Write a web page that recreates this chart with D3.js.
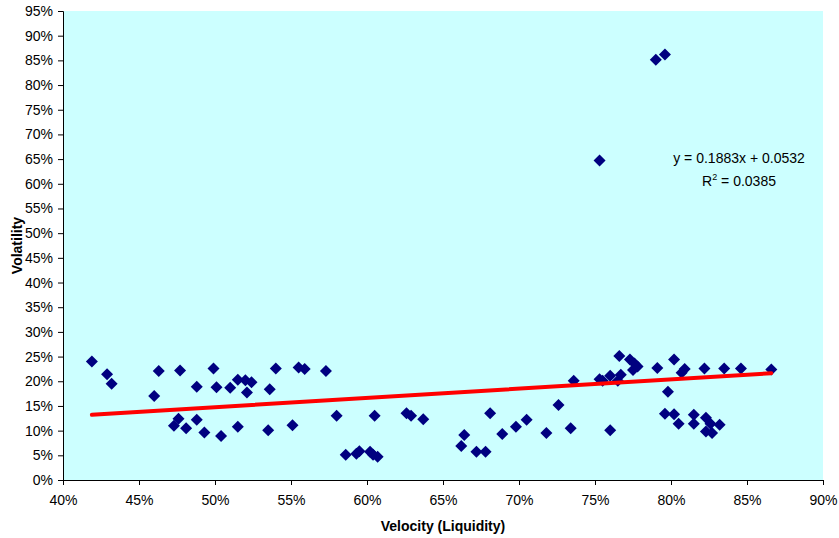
<!DOCTYPE html>
<html>
<head>
<meta charset="utf-8">
<script src="https://cdn.jsdelivr.net/npm/d3@7"></script>
<style>
  html, body { margin: 0; padding: 0; background: #ffffff; }
  svg { display: block; font-family: "Liberation Sans", Arial, sans-serif; }
</style>
</head>
<body>
<svg id="chart" width="839" height="538"></svg>
<script>
// Velocity (Liquidity), %
const velocity = [
  41.9, 42.9, 43.2, 46.0, 46.3, 47.7, 47.6, 47.3, 48.1, 48.8, 49.3, 48.8, 49.9, 50.1, 50.4,
  51.0, 51.5, 51.5, 52.0, 52.4, 52.1, 53.6, 54.0, 53.5, 55.1, 55.5, 55.9, 57.3, 58.0, 58.6,
  59.3, 59.5, 60.2, 60.4, 60.7, 60.5, 62.6, 62.9, 63.7, 66.4, 66.2, 67.2, 67.8, 68.1, 68.9,
  69.8, 70.5, 71.8, 72.6, 73.4, 73.6, 75.3, 75.5, 76.0, 76.0, 76.5, 76.7, 76.6, 77.3, 77.6,
  77.8, 77.5, 79.1, 80.2, 80.9, 80.7, 82.2, 83.5, 84.6, 86.6, 79.8, 79.6, 80.2, 80.5, 81.5,
  81.5, 82.3, 82.6, 82.3, 82.7, 83.2, 79.0, 79.6, 75.3
];
// Volatility, %
const volatility = [
  24.0, 21.4, 19.5, 17.0, 22.1, 22.2, 12.4, 11.0, 10.5, 12.2, 9.6, 18.9, 22.6, 18.8, 8.9,
  18.7, 10.8, 20.3, 20.2, 19.8, 17.7, 18.4, 22.6, 10.1, 11.1, 22.8, 22.5, 22.1, 13.0, 5.1,
  5.3, 5.8, 5.7, 5.1, 4.7, 13.0, 13.5, 13.0, 12.3, 9.1, 6.9, 5.7, 5.7, 13.5, 9.3,
  10.8, 12.2, 9.5, 15.2, 10.5, 20.1, 20.4, 20.1, 10.1, 21.1, 20.1, 21.3, 25.1, 24.4, 23.6,
  23.0, 22.3, 22.7, 24.4, 22.5, 21.7, 22.6, 22.6, 22.6, 22.4, 17.9, 13.4, 13.3, 11.4, 13.2,
  11.4, 12.6, 11.4, 9.8, 9.5, 11.2, 85.1, 86.2, 64.7
];
// Linear trend (from the chart): y = 0.1883x + 0.0532
const trendSlope = 0.1883;
const trendIntercept = 0.0532;
const equationLines = ["y = 0.1883x + 0.0532", "0.0385"];
const xTicks = [40, 45, 50, 55, 60, 65, 70, 75, 80, 85, 90];
const yTicks = [0, 5, 10, 15, 20, 25, 30, 35, 40, 45, 50, 55, 60, 65, 70, 75, 80, 85, 90, 95];
const xTitle = "Velocity (Liquidity)";
const yTitle = "Volatility";

const W = 839, H = 538;
const margin = { left: 63, right: 16, top: 11, bottom: 58 };
const svg = d3.select("#chart");
const FS = 14;

const x = d3.scaleLinear().domain([40, 90]).range([margin.left, W - margin.right]);
const y = d3.scaleLinear().domain([0, 95]).range([H - margin.bottom, margin.top]);

// plot background
svg.append("rect")
  .attr("x", x(40)).attr("y", y(95))
  .attr("width", x(90) - x(40)).attr("height", y(0) - y(95))
  .attr("fill", "#CCFFFF");

// axes
const xAxis = d3.axisBottom(x).tickValues(xTicks).tickFormat(d => d + "%").tickSizeOuter(0).tickSize(5).tickPadding(10);
const yAxis = d3.axisLeft(y).tickValues(yTicks).tickFormat(d => d + "%").tickSizeOuter(0).tickSize(5).tickPadding(5);

const gx = svg.append("g").attr("transform", `translate(0,${y(0)})`).call(xAxis);
const gy = svg.append("g").attr("transform", `translate(${x(40)},0)`).call(yAxis);
[gx, gy].forEach(g => {
  g.selectAll("path").attr("stroke", "#000").attr("stroke-width", 1);
  g.selectAll("line").attr("stroke", "#000");
  g.selectAll("text").attr("font-size", FS).attr("fill", "#000")
    .attr("font-family", "'Liberation Sans', Arial, sans-serif");
});

// points
const pts = velocity.map((v, i) => ({ v, s: volatility[i] }));
const r = 6;
svg.append("g").selectAll("path").data(pts).join("path")
  .attr("d", `M0,${-r}L${r},0L0,${r}L${-r},0Z`)
  .attr("transform", d => `translate(${x(d.v)},${y(d.s)})`)
  .attr("fill", "#000080");

// trend line
const xmin = d3.min(velocity), xmax = d3.max(velocity);
const f = v => (trendSlope * v / 100 + trendIntercept) * 100;
svg.append("line")
  .attr("x1", x(xmin)).attr("y1", y(f(xmin)))
  .attr("x2", x(xmax)).attr("y2", y(f(xmax)))
  .attr("stroke", "#FF0000").attr("stroke-width", 4).attr("stroke-linecap", "round");

// equation
const eq = svg.append("g").attr("font-size", FS).attr("text-anchor", "middle").attr("fill", "#000");
eq.append("text").attr("x", 739).attr("y", 163).text(equationLines[0]);
const r2 = eq.append("text").attr("x", 739).attr("y", 186);
r2.append("tspan").text("R");
r2.append("tspan").attr("font-size", 9).attr("dy", -6).text("2");
r2.append("tspan").attr("dy", 6).text(" = " + equationLines[1]);

// axis titles
svg.append("text")
  .attr("x", (x(40) + x(90)) / 2).attr("y", 531)
  .attr("text-anchor", "middle").attr("font-size", FS).attr("font-weight", "bold")
  .text(xTitle);
svg.append("text")
  .attr("transform", `translate(22,${(y(0) + y(95)) / 2}) rotate(-90)`)
  .attr("text-anchor", "middle").attr("font-size", FS).attr("font-weight", "bold")
  .text(yTitle);
</script>
</body>
</html>
